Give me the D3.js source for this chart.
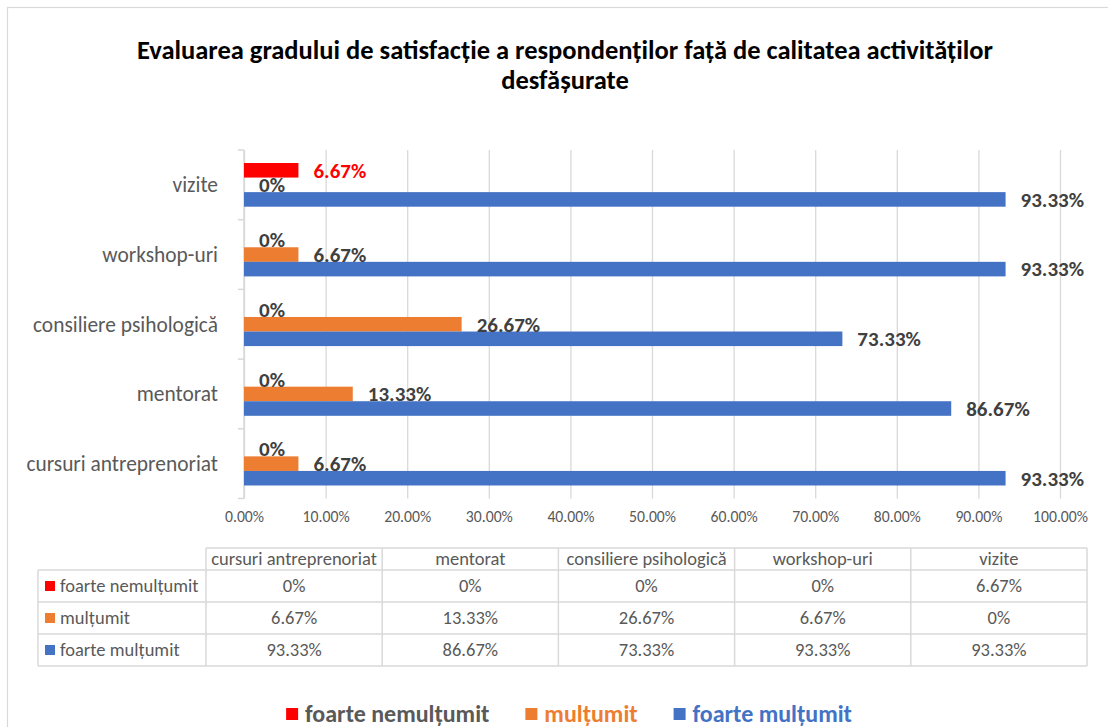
<!DOCTYPE html>
<html>
<head>
<meta charset="utf-8">
<script src="https://cdn.jsdelivr.net/npm/d3@7"></script>
<style>
  html,body{margin:0;padding:0;background:#fff;}
  svg{display:block;font-family:Calibri,Carlito,Lato,sans-serif;}
</style>
</head>
<body>
<svg id="chart" width="1108" height="727"></svg>
<script>
// data, in table order (bottom category first)
const categories=["cursuri antreprenoriat","mentorat","consiliere psihologică","workshop-uri","vizite"];
const seriesNames=["foarte nemulțumit","mulțumit","foarte mulțumit"];
const seriesColors=["#FF0000","#ED7D31","#4472C4"];
const foarteNemultumit=[0,0,0,0,6.67];
const multumit=[6.67,13.33,26.67,6.67,0];
const foarteMultumit=[93.33,86.67,73.33,93.33,93.33];
const xTicks=[0,10,20,30,40,50,60,70,80,90,100];
const titleLines=["Evaluarea gradului de satisfacție a respondenților față de calitatea activităților","desfășurate"];

const seriesValues=[foarteNemultumit,multumit,foarteMultumit];
const fmt=v=>v===0?"0%":v.toFixed(2)+"%";

const svg=d3.select("#chart");
const W=1108,H=727;
const m={top:150,bottom:498.5,left:244,right:1060};

svg.append("rect").attr("width",W).attr("height",H).attr("fill","#fff");
svg.append("rect").attr("x",7.5).attr("y",7.5).attr("width",W+20).attr("height",H+20)
  .attr("fill","none").attr("stroke","#d9d9d9").attr("stroke-width",1.2);

// title
const title=svg.append("text").attr("text-anchor","middle").attr("font-weight","bold")
  .attr("font-size","26.5px").attr("fill","#000");
titleLines.forEach((t,i)=>{
  title.append("tspan").attr("x",565).attr("y",59+i*30).text(t);
});

const x=d3.scaleLinear().domain([0,100]).range([m.left,m.right]);
const y=d3.scaleBand().domain(categories.slice().reverse()).range([m.top,m.bottom]).padding(0);
const yInner=d3.scaleBand().domain(seriesNames).range([0,y.bandwidth()]).paddingInner(0).paddingOuter(0.893);

// gridlines + tick labels
const gx=svg.append("g").attr("transform",`translate(0,${m.bottom})`)
  .call(d3.axisBottom(x).tickValues(xTicks).tickSize(-(m.bottom-m.top)).tickPadding(12)
    .tickFormat(d=>d.toFixed(2)+"%"));
gx.select(".domain").remove();
gx.selectAll("line").attr("stroke","#d9d9d9").attr("stroke-width",1.3);
gx.selectAll("text").attr("fill","#595959").attr("font-size","15.7px")
  .attr("font-family","Calibri,Carlito,Lato,sans-serif");

// vertical category axis
svg.append("line").attr("x1",m.left).attr("x2",m.left).attr("y1",m.top).attr("y2",m.bottom)
  .attr("stroke","#d9d9d9").attr("stroke-width",1.5);
const bounds=y.domain().map(d=>y(d)).concat([m.bottom]);
svg.selectAll(".ctick").data(bounds).enter().append("line")
  .attr("x1",m.left-6).attr("x2",m.left).attr("y1",d=>d).attr("y2",d=>d)
  .attr("stroke","#d9d9d9").attr("stroke-width",1.5);
svg.selectAll(".clabel").data(categories).enter().append("text")
  .attr("x",m.left-26).attr("y",d=>y(d)+y.bandwidth()/2).attr("dy","0.35em")
  .attr("text-anchor","end").attr("fill","#595959").attr("font-size","21.4px")
  .text(d=>d);

// bars
const flat=[];
seriesNames.forEach((s,si)=>categories.forEach((c,ci)=>flat.push({s,si,c,v:seriesValues[si][ci]})));
svg.selectAll(".bar").data(flat).enter().append("rect")
  .attr("x",x(0)).attr("y",d=>y(d.c)+yInner(d.s))
  .attr("width",d=>x(d.v)-x(0)).attr("height",yInner.bandwidth())
  .attr("fill",d=>seriesColors[d.si]);
svg.selectAll(".lbl").data(flat).enter().append("text")
  .attr("x",d=>x(d.v)+15).attr("y",d=>y(d.c)+yInner(d.s)+yInner.bandwidth()/2).attr("dy","0.35em")
  .attr("font-weight","bold").attr("font-size","21px")
  .attr("fill",d=>d.si===0&&d.v>0?"#FF0000":"#404040")
  .text(d=>fmt(d.v));

// data table
const tc=d3.scaleBand().domain(categories).range([206,1087]);
const rowY=d3.scaleBand().domain(seriesNames).range([570,666]);
const tLeft=38,headTop=548;
const tg=svg.append("g").attr("stroke","#d9d9d9").attr("stroke-width",1.5);
tg.append("line").attr("x1",206).attr("x2",1087).attr("y1",headTop).attr("y2",headTop);
[570].concat(seriesNames.map(s=>rowY(s)+rowY.bandwidth())).forEach(yy=>{
  tg.append("line").attr("x1",tLeft).attr("x2",1087).attr("y1",yy).attr("y2",yy);
});
tg.append("line").attr("x1",tLeft).attr("x2",tLeft).attr("y1",570).attr("y2",666);
categories.map(c=>tc(c)).concat([1087]).forEach(xx=>{
  tg.append("line").attr("x1",xx).attr("x2",xx).attr("y1",headTop).attr("y2",666);
});
svg.selectAll(".th").data(categories).enter().append("text")
  .attr("x",d=>tc(d)+tc.bandwidth()/2).attr("y",(headTop+570)/2).attr("dy","0.35em")
  .attr("text-anchor","middle").attr("fill","#595959").attr("font-size","18.5px").text(d=>d);
seriesNames.forEach((s,si)=>{
  const cy=rowY(s)+rowY.bandwidth()/2;
  svg.append("rect").attr("x",45).attr("y",cy-5).attr("width",10).attr("height",10).attr("fill",seriesColors[si]);
  svg.append("text").attr("x",60).attr("y",cy).attr("dy","0.35em").attr("fill","#595959")
    .attr("font-size","18.5px").text(s);
  svg.selectAll(".td"+si).data(categories).enter().append("text")
    .attr("x",d=>tc(d)+tc.bandwidth()/2).attr("y",cy).attr("dy","0.35em")
    .attr("text-anchor","middle").attr("fill","#595959").attr("font-size","18.5px")
    .text((d,ci)=>fmt(seriesValues[si][ci]));
});

// bottom legend
const legendText=["#595959","#ED7D31","#4472C4"];
const lg=svg.append("g");
let lx=0;
seriesNames.forEach((s,si)=>{
  const g=lg.append("g").attr("transform",`translate(${lx},0)`);
  g.append("rect").attr("x",0).attr("y",-6).attr("width",12).attr("height",12).attr("fill",seriesColors[si]);
  const t=g.append("text").attr("x",19).attr("y",0).attr("dy","0.35em").attr("font-weight","bold")
    .attr("font-size","24px").attr("fill",legendText[si]).text(s);
  lx+=19+t.node().getComputedTextLength()+36;
});
lx-=36;
lg.attr("transform",`translate(${569-lx/2},714)`);
</script>
</body>
</html>
